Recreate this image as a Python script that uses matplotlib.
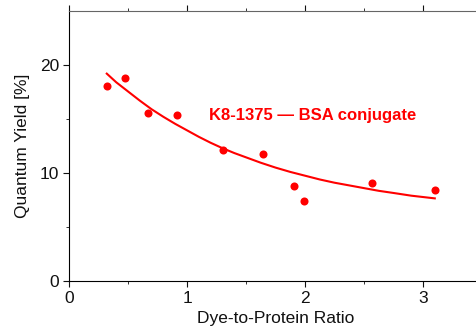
import numpy as np
import matplotlib.pyplot as plt

plt.switch_backend('agg')
plt.rcParams['font.family'] = ['Liberation Sans', 'DejaVu Sans']

# measured points (dye-to-protein ratio vs quantum yield)
dpr = [0.32, 0.477, 0.672, 0.912, 1.308, 1.647, 1.91, 1.995, 2.57, 3.10]
qy = [18.1, 18.8, 15.6, 15.4, 12.1, 11.8, 8.8, 7.4, 9.1, 8.4]

# fitted curve
fit_x = [0.32, 0.4, 0.5, 0.6, 0.7, 0.8, 0.9, 1.0, 1.1, 1.2, 1.3, 1.4, 1.5, 1.625,
         1.75, 1.875, 2.0, 2.125, 2.25, 2.375, 2.5, 2.625, 2.75, 2.9, 3.1]
fit_y = [19.2, 18.4, 17.55, 16.7, 15.9, 15.2, 14.55, 13.95, 13.35, 12.8, 12.3, 11.85, 11.45, 10.95,
         10.5, 10.1, 9.75, 9.4, 9.1, 8.85, 8.6, 8.35, 8.15, 7.9, 7.65]

label = 'K8-1375 \u2014 BSA conjugate'
red = '#ff0000'

fig = plt.figure(figsize=(4.76, 3.28), dpi=100)
ax = fig.add_axes([0.145, 0.1433, 0.8676, 0.8232])

ax.plot(fit_x, fit_y, color=red, linewidth=1.5)
ax.plot(dpr, qy, 'o', color=red, markersize=5.8, markeredgewidth=0)
ax.text(1.186, 15.3, label, color=red, fontsize=12, fontweight='bold',
        ha='left', va='center')

ax.set_xlim(0, 3.5)
ax.set_ylim(0, 25)
ax.set_xticks([0, 1, 2, 3])
ax.set_xticks([0.5, 1.5, 2.5], minor=True)
ax.set_yticks([0, 10, 20])
ax.set_yticks([5, 15], minor=True)
ax.tick_params(which='major', length=4, labelsize=12.5, colors='#111111', pad=3)
ax.tick_params(which='minor', length=2.5, colors='#111111')
ax.tick_params(axis='x', which='both', top=True, labeltop=False)

ax.spines['top'].set_color('#666666')
ax.spines['right'].set_visible(False)

ax.set_xlabel('Dye-to-Protein Ratio', fontsize=12.5, color='#111111', labelpad=4)
ax.set_ylabel('Quantum Yield [%]', fontsize=12.5, color='#111111', labelpad=7)

plt.savefig('out.png', dpi=100)
